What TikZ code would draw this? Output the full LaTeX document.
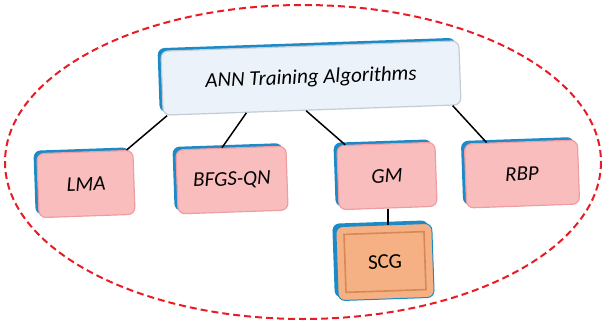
\documentclass[tikz,border=0pt]{standalone}
\usepackage{fontspec}
\setmainfont{Carlito}
\usetikzlibrary{calc,shadows}
\definecolor{blueedge}{RGB}{28,138,198}
\definecolor{pinkfill}{RGB}{250,189,190}
\definecolor{pinkedge}{RGB}{236,158,162}
\definecolor{topfill}{RGB}{235,242,249}
\definecolor{topedge}{RGB}{196,204,212}
\definecolor{scgfill}{RGB}{245,177,131}
\definecolor{scgedge}{RGB}{214,136,86}
\definecolor{ringred}{RGB}{232,28,36}
\tikzset{
  algobox/.style={rounded corners=7pt, rotate=2, minimum height=64pt,
    minimum width=#1, line width=1.2pt, inner sep=0pt,
    font=\fontsize{21}{24}\selectfont\itshape,
    general shadow={fill=blueedge, shadow xshift=-3.5pt, shadow yshift=3pt}},
  childbox/.style={algobox=#1, fill=pinkfill, draw=pinkedge},
  link/.style={line width=1.5pt, black}
}
\begin{document}
\begin{tikzpicture}[x=1pt,y=-1pt]
\useasboundingbox (0,0) rectangle (606,324);
\draw[ringred, line width=2pt, dash pattern=on 7pt off 4pt] (303,162) ellipse [x radius=298, y radius=157];
% top box
\node[algobox=298pt, minimum height=64pt, fill=topfill, draw=topedge] (ann) at (311,78) {ANN Training Algorithms};
% children
\node[childbox=96pt] (lma) at (86,184) {LMA};
\node[childbox=110pt] (bfgs) at (232,180) {BFGS-QN};
\node[childbox=98pt] (gm) at (387,176) {GM};
\node[childbox=113pt] (rbp) at (522,174) {RBP};
\node[algobox=96pt, minimum height=74pt, fill=scgfill, draw=blueedge, line width=1pt,
  font=\fontsize{21}{24}\selectfont, general shadow={fill=none, draw=none}] (scg) at (385,262) {SCG};
\node[rotate=2, minimum width=80pt, minimum height=58pt, draw=scgedge, line width=1.6pt] (scgin) at (scg.center) {};
% connectors
\draw[link] ($(ann.south west)!.015!(ann.south east)$) -- ($(lma.north west)!.93!(lma.north east)$);
\draw[link] ($(ann.south west)!.28!(ann.south east)$) -- ($(bfgs.north west)!.42!(bfgs.north east)$);
\draw[link] ($(ann.south west)!.48!(ann.south east)$) -- ($(gm.north west)!.09!(gm.north east)$);
\draw[link] ($(ann.south west)!.97!(ann.south east)$) -- ($(rbp.north west)!.2!(rbp.north east)$);
\draw[link] (gm.south) -- (gm.south |- scg.north);
\end{tikzpicture}
\end{document}
